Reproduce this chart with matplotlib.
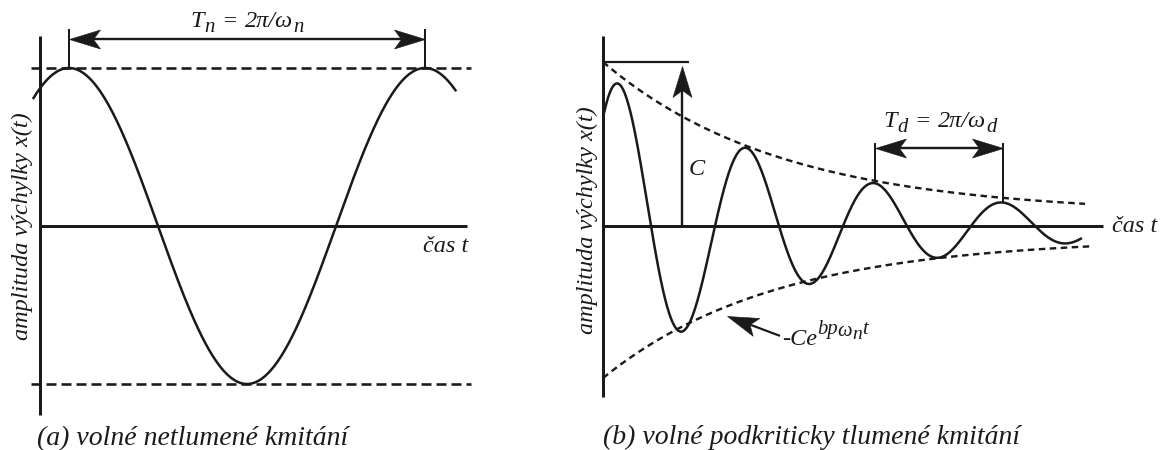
import numpy as np
import matplotlib
matplotlib.use("Agg")
import matplotlib.pyplot as plt
from matplotlib.path import Path
from matplotlib.markers import MarkerStyle
from matplotlib.transforms import Affine2D
from matplotlib.font_manager import FontProperties

# ---------------------------------------------------------------------------
# Model parameters
# (a) undamped free vibration: time in units of T_n, amplitude in units of X
undamped_period = 1.0
undamped_amplitude = 1.0
undamped_first_peak = 0.0815
undamped_t_span = [-0.02, 1.169]

# (b) underdamped free vibration: time in units of T_d, amplitude in units of C
damped_period = 1.0
damped_amplitude = 0.933
damped_decay = 0.60
damped_first_peak = 0.125
damped_t_span = [0.0, 3.742]

# dashed envelopes (upper, lower):  scale * exp(-rate * t) + floor
envelope_scale = [0.927, 0.854]
envelope_rate = [0.717, 0.74]
envelope_floor = [0.073, 0.073]
envelope_t_end = [3.766, 3.82]

C_level = 1.0

# text
ylabel_text = "amplituda výchylky x(t)"
xlabel_text = "čas t"
caption_a = "(a) volné netlumené kmitání"
caption_b = "(b) volné podkriticky tlumené kmitání"
C_text = "C"
# rich labels: (text, size factor, rise in px, gap before in px)
period_a_pieces = [("T", 1.0, 0, 0), ("n", 0.85, -5, 0), ("=", 1.0, 0, 7),
                   ("2π/ω", 1.0, 0, 7), ("n", 0.85, -5, 0)]
period_b_pieces = [("T", 1.0, 0, 0), ("d", 0.85, -5, 0), ("=", 1.0, 0, 7),
                   ("2π/ω", 1.0, 0, 7), ("d", 0.85, -5, 0)]
envelope_pieces = [("-Ce", 1.0, 0, 0), ("bp", 0.85, 11, 0), ("ω", 0.85, 9, 0),
                   ("n", 0.8, 6, 0), ("t", 0.85, 11, 0)]

# ---------------------------------------------------------------------------
plt.rcParams['font.family'] = ['Liberation Serif', 'DejaVu Serif']
plt.rcParams['font.style'] = 'italic'
plt.rcParams['lines.scale_dashes'] = False
plt.rcParams['lines.solid_capstyle'] = 'butt'

INK = '#1a1a1a'
PX = 0.72            # points per pixel at 100 dpi
W, H = 1164, 450
BASE_SIZE = 17.5

fig = plt.figure(figsize=(W / 100, H / 100), dpi=100)
fig.patch.set_facecolor('white')
renderer = fig.canvas.get_renderer()


def make_axes(x0_px, y0_px, px_per_t, px_per_amp):
    """Full-figure invisible axes whose origin sits at pixel (x0, y0)."""
    ax = fig.add_axes([0, 0, 1, 1])
    ax.set_xlim(-x0_px / px_per_t, (W - x0_px) / px_per_t)
    ax.set_ylim(-(H - y0_px) / px_per_amp, y0_px / px_per_amp)
    ax.axis('off')
    ax.patch.set_alpha(0)
    return ax


# arrowhead with a notched back, tip at the origin pointing along +x
HEAD_LEN = 31
HEAD = Path([(0, 0), (-HEAD_LEN, 9.5), (-24, 0), (-HEAD_LEN, -9.5), (0, 0)],
            [Path.MOVETO, Path.LINETO, Path.LINETO, Path.LINETO, Path.CLOSEPOLY])


def arrow_head(ax, tip, direction_from):
    """Draw arrowhead at `tip` pointing away from `direction_from`; return
    the data point where the shaft should stop."""
    tr = ax.transData
    p_tip = tr.transform(tip)
    p_from = tr.transform(direction_from)
    d = p_tip - p_from
    d = d / np.hypot(*d)
    ang = np.degrees(np.arctan2(d[1], d[0]))
    m = MarkerStyle(HEAD, transform=Affine2D().rotate_deg(ang))
    ax.plot([tip[0]], [tip[1]], marker=m, ms=2 * HEAD_LEN * PX, color=INK,
            mec=INK, mew=0.4, linestyle='none', clip_on=False)
    return tr.inverted().transform(p_tip - d * 22)


def arrow(ax, start, end, both=False, lw=2.4):
    a, b = np.array(start, float), np.array(end, float)
    e = arrow_head(ax, b, a)
    s = arrow_head(ax, a, b) if both else a
    ax.plot([s[0], e[0]], [s[1], e[1]], color=INK, lw=lw * PX, clip_on=False)


def rich_text(ax, x, y, pieces, ha='left'):
    """Lay out text pieces (with sub/superscripts) along one baseline."""
    widths = []
    for s, f, rise, gap in pieces:
        fp = FontProperties(family='Liberation Serif', style='italic',
                            size=BASE_SIZE * f)
        w, _, _ = renderer.get_text_width_height_descent(s, fp, ismath=False)
        widths.append(w)
    total = sum(widths) + sum(p[3] for p in pieces)
    cur = -total / 2 if ha == 'center' else 0.0
    for (s, f, rise, gap), w in zip(pieces, widths):
        cur += gap
        ax.annotate(s, (x, y), xytext=(cur * PX, rise * PX),
                    textcoords='offset points', ha='left', va='baseline',
                    fontsize=BASE_SIZE * f, style='italic', color=INK,
                    annotation_clip=False)
        cur += w


TXT = dict(color=INK, fontsize=BASE_SIZE, style='italic', clip_on=False)
AXIS_LW = 3.0 * PX
CURVE_LW = 2.5 * PX

# ---------------------------------------------------------------------------
# (a) undamped
axa = make_axes(40, 226, 356, 158)
ta = np.linspace(undamped_t_span[0], undamped_t_span[1], 800)
xa = undamped_amplitude * np.cos(2 * np.pi * (ta - undamped_first_peak) / undamped_period)

axa.plot([0, 0], [-1.196, 1.203], color=INK, lw=AXIS_LW)
axa.plot([0, 1.199], [0, 0], color=INK, lw=AXIS_LW)
for lvl in (undamped_amplitude, -undamped_amplitude):
    axa.plot([-0.025, 1.21], [lvl, lvl], color=INK, lw=2.6 * PX,
             dashes=(10 * PX, 5 * PX))
axa.plot(ta, xa, color=INK, lw=CURVE_LW)

p1 = undamped_first_peak
p2 = undamped_first_peak + undamped_period
for p in (p1, p2):
    axa.plot([p, p], [undamped_amplitude, 1.247], color=INK, lw=2.0 * PX)
arrow(axa, (p1, 1.184), (p2, 1.184), both=True)
rich_text(axa, (p1 + p2) / 2, 1.259, period_a_pieces, ha='center')

axa.text(1.076, -0.165, xlabel_text, ha='left', va='baseline', **TXT)
axa.text(-0.0506, 0.0, ylabel_text, rotation=90, ha='center', va='center', **TXT)
axa.text(-0.008, -1.386, caption_a, ha='left', va='baseline',
         color=INK, fontsize=20, style='italic')

# ---------------------------------------------------------------------------
# (b) underdamped
axb = make_axes(603, 226, 128, 164)


def damped_value(t):
    return damped_amplitude * np.exp(-damped_decay * t) * \
        np.cos(2 * np.pi * (t - damped_first_peak) / damped_period)


tb = np.linspace(damped_t_span[0], damped_t_span[1], 1500)
xb = damped_value(tb)

axb.plot([0, 0], [-1.043, 1.159], color=INK, lw=AXIS_LW)
axb.plot([0, 3.906], [0, 0], color=INK, lw=AXIS_LW)

for sign, sc, rt, fl, te in zip((1, -1), envelope_scale, envelope_rate,
                                envelope_floor, envelope_t_end):
    te_arr = np.linspace(0, te, 600)
    env = sign * (sc * np.exp(-rt * te_arr) + fl)
    axb.plot(te_arr, env, color=INK, lw=2.4 * PX, dashes=(6.5 * PX, 4.5 * PX))

axb.plot(tb, xb, color=INK, lw=CURVE_LW)

# C marker
axb.plot([0, 0.672], [C_level, C_level], color=INK, lw=2.2 * PX)
arrow(axb, (0.617, 0.0), (0.617, C_level * 0.975))
axb.text(0.734, 0.311, C_text, ha='center', va='baseline', **TXT)

# damped period marker
q1 = damped_first_peak + 2 * damped_period
q2 = damped_first_peak + 3 * damped_period
for q in (q1, q2):
    axb.plot([q, q], [damped_value(q), 0.506], color=INK, lw=2.0 * PX)
arrow(axb, (q1, 0.476), (q2, 0.476), both=True)
rich_text(axb, (q1 + q2) / 2 + 0.008, 0.604, period_b_pieces, ha='center')

# envelope pointer
arrow(axb, (1.383, -0.67), (0.969, -0.549), lw=2.2)
rich_text(axb, 1.398, -0.726, envelope_pieces)

axb.text(3.977, -0.037, xlabel_text, ha='left', va='baseline', **TXT)
axb.text(-0.125, 0.037, ylabel_text, rotation=90, ha='center', va='center', **TXT)
axb.text(0.0, -1.329, caption_b, ha='left', va='baseline',
         color=INK, fontsize=20, style='italic')

fig.savefig('out.png', dpi=100)
